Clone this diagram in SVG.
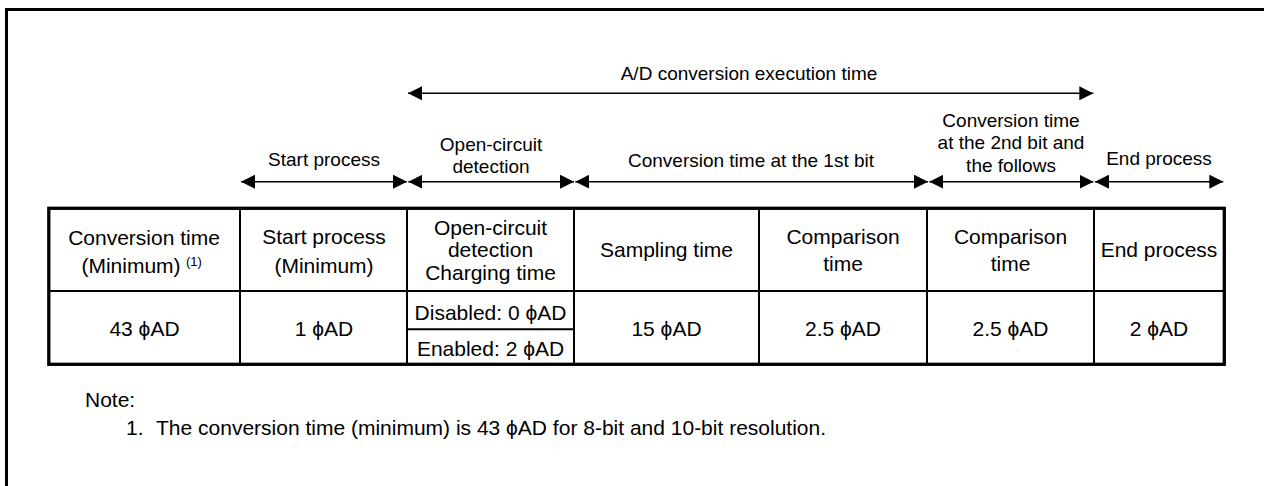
<svg xmlns="http://www.w3.org/2000/svg" width="1264" height="486" viewBox="0 0 1264 486">
<style>
  text { font-family: "Liberation Sans", Arial, sans-serif; fill: #000; }
  .lbl { font-size: 19px; text-anchor: middle; }
  .cell { font-size: 21px; text-anchor: middle; }
  .note { font-size: 21px; }
  .sup { font-size: 13px; }
  .arrow { stroke: #000; stroke-width: 1.5; fill: none; marker-start: url(#ah); marker-end: url(#ah); }
  .outer { stroke: #000; stroke-width: 3.3; fill: none; }
  .inner { stroke: #000; stroke-width: 2; fill: none; }
  .frame { stroke: #000; stroke-width: 3; fill: none; }
</style>
<defs>
  <marker id="ah" viewBox="0 0 14 14" refX="14" refY="7" markerWidth="14" markerHeight="14" markerUnits="userSpaceOnUse" orient="auto-start-reverse">
    <path d="M0,0 L14,7 L0,14 z" fill="#000"/>
  </marker>
</defs>
<rect width="1264" height="486" fill="#fff"/>
<g id="frame">
  <polyline class="frame" points="6.5,486 6.5,9.5 1264,9.5"/>
</g>
<g id="connectors">
  <line class="arrow" x1="408" y1="93.3" x2="1093.3" y2="93.3"/>
  <line class="arrow" x1="241" y1="181.7" x2="407" y2="181.7"/>
  <line class="arrow" x1="408.3" y1="181.7" x2="574" y2="181.7"/>
  <line class="arrow" x1="575.3" y1="181.7" x2="928" y2="181.7"/>
  <line class="arrow" x1="929.3" y1="181.7" x2="1093.5" y2="181.7"/>
  <line class="arrow" x1="1095" y1="181.7" x2="1223.3" y2="181.7"/>
</g>
<g id="labels">
  <text class="lbl" x="749" y="80">A/D conversion execution time</text>
  <text class="lbl" x="324" y="166">Start process</text>
  <text class="lbl" x="491" y="150.7">Open-circuit</text>
  <text class="lbl" x="491" y="172.7">detection</text>
  <text class="lbl" x="751" y="166.7">Conversion time at the 1st bit</text>
  <text class="lbl" x="1011" y="127.3">Conversion time</text>
  <text class="lbl" x="1011" y="149.3">at the 2nd bit and</text>
  <text class="lbl" x="1011" y="171.7">the follows</text>
  <text class="lbl" x="1159" y="165">End process</text>
</g>
<g id="table">
  <rect class="outer" x="48.8" y="208.3" width="1175.5" height="156"/>
  <line class="inner" x1="48" y1="291" x2="1224" y2="291"/>
  <line class="inner" x1="240" y1="208" x2="240" y2="364"/>
  <line class="inner" x1="407" y1="208" x2="407" y2="364"/>
  <line class="inner" x1="574" y1="208" x2="574" y2="364"/>
  <line class="inner" x1="759" y1="208" x2="759" y2="364"/>
  <line class="inner" x1="927" y1="208" x2="927" y2="364"/>
  <line class="inner" x1="1094" y1="208" x2="1094" y2="364"/>
  <line class="inner" x1="407" y1="329.3" x2="574" y2="329.3"/>
</g>
<g id="cell-conversion-time">
  <text class="cell" x="144" y="245">Conversion time</text>
  <text class="cell" x="131" y="272.7">(Minimum)</text>
  <text class="sup" x="186" y="265.5">(1)</text>
  <text class="cell" x="144.5" y="335.5">43 ϕAD</text>
</g>
<g id="cell-start-process">
  <text class="cell" x="324" y="244">Start process</text>
  <text class="cell" x="324" y="272.7">(Minimum)</text>
  <text class="cell" x="324" y="335.5">1 ϕAD</text>
</g>
<g id="cell-open-circuit">
  <text class="cell" x="490.5" y="234.5">Open-circuit</text>
  <text class="cell" x="490.5" y="257">detection</text>
  <text class="cell" x="490.5" y="279.5">Charging time</text>
  <text class="cell" x="490.5" y="320">Disabled: 0 ϕAD</text>
  <text class="cell" x="490.5" y="356">Enabled: 2 ϕAD</text>
</g>
<g id="cell-sampling">
  <text class="cell" x="666.5" y="257.3">Sampling time</text>
  <text class="cell" x="666.5" y="335.5">15 ϕAD</text>
</g>
<g id="cell-comparison-1">
  <text class="cell" x="843" y="244">Comparison</text>
  <text class="cell" x="843" y="270.5">time</text>
  <text class="cell" x="843" y="335.5">2.5 ϕAD</text>
</g>
<g id="cell-comparison-2">
  <text class="cell" x="1010.5" y="244">Comparison</text>
  <text class="cell" x="1010.5" y="270.5">time</text>
  <text class="cell" x="1010.5" y="335.5">2.5 ϕAD</text>
</g>
<g id="cell-end-process">
  <text class="cell" x="1159" y="257.3">End process</text>
  <text class="cell" x="1159" y="335.5">2 ϕAD</text>
</g>
<g id="note">
  <text class="note" x="85" y="407">Note:</text>
  <text class="note" x="126" y="434.5">1.</text>
  <text class="note" x="156" y="434.5">The conversion time (minimum) is 43 ϕAD for 8-bit and 10-bit resolution.</text>
</g>
</svg>
